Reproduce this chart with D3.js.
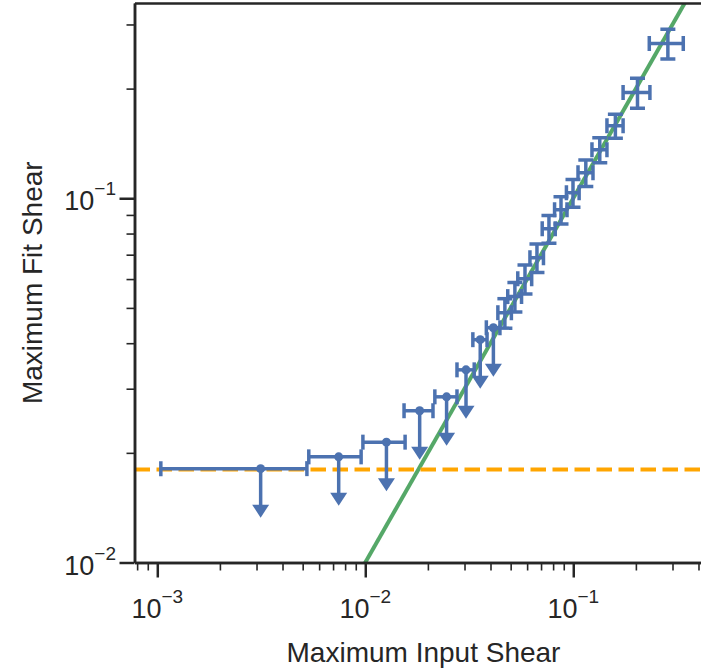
<!DOCTYPE html>
<html>
<head>
<meta charset="utf-8">
<script src="https://cdn.jsdelivr.net/npm/d3@7"></script>
<style>
  body { margin: 0; background: #fff; }
  text { font-family: "Liberation Sans", Arial, sans-serif; fill: #262626; }
</style>
</head>
<body>
<div id="chart"></div>
<script>
// upper limits (points with a down arrow)
const limitX = [0.00314, 0.00745, 0.01264, 0.01826, 0.0246, 0.0305, 0.0357, 0.0413];
const limitXErr = [0.0021, 0.0021, 0.0029, 0.0029, 0.0030, 0.0029, 0.0028, 0.0031];
const limitY = [0.0181, 0.0195, 0.0214, 0.0261, 0.0285, 0.0338, 0.0409, 0.0441];

// measured points with error bars in both directions
const fitX = [0.0469, 0.0524, 0.0586, 0.0669, 0.0764, 0.0873, 0.0997, 0.1149, 0.1341, 0.1594, 0.2036, 0.285];
const fitXErr = [0.0035, 0.004, 0.0045, 0.005, 0.0055, 0.006, 0.007, 0.0095, 0.0111, 0.0142, 0.030, 0.053];
const fitY = [0.0485, 0.0537, 0.0601, 0.0687, 0.0825, 0.093, 0.1035, 0.1175, 0.1358, 0.1581, 0.1951, 0.266];
const fitYErr = [0.0045, 0.005, 0.0055, 0.0062, 0.0072, 0.008, 0.009, 0.0098, 0.0107, 0.012, 0.0185, 0.025];

// horizontal noise level and the one-to-one line
const noiseLevel = 0.018;
const identityLine = [0.001, 1];

// axis limits and ticks
const xLimits = [0.000777, 0.409];
const yLimits = [0.01, 0.3436];
const xMajor = [1e-3, 1e-2, 1e-1];
const yMajor = [1e-2, 1e-1];
const xMinor = [8e-4, 9e-4, 2e-3, 3e-3, 4e-3, 5e-3, 6e-3, 7e-3, 8e-3, 9e-3,
  2e-2, 3e-2, 4e-2, 5e-2, 6e-2, 7e-2, 8e-2, 9e-2, 2e-1, 3e-1, 4e-1];
const yMinor = [2e-2, 3e-2, 4e-2, 5e-2, 6e-2, 7e-2, 8e-2, 9e-2, 2e-1, 3e-1];
const xTickExp = ["\u22123", "\u22122", "\u22121"];
const yTickExp = ["\u22122", "\u22121"];

const svgWidth = 701;
const svgHeight = 670;
const plot = { left: 134.5, right: 700.5, top: 3, bottom: 562.5 };

const blue = "#4c72b0";
const green = "#55a868";
const orange = "#ffa500";
const ink = "#262626";

const svg = d3.select("#chart")
  .append("svg")
  .attr("width", svgWidth)
  .attr("height", svgHeight);

const x = d3.scaleLog().domain(xLimits).range([plot.left, plot.right]);
const y = d3.scaleLog().domain(yLimits).range([plot.bottom, plot.top]);

svg.append("clipPath")
  .attr("id", "plotClip")
  .append("rect")
  .attr("x", plot.left)
  .attr("y", plot.top)
  .attr("width", plot.right - plot.left)
  .attr("height", plot.bottom - plot.top);

const plotArea = svg.append("g").attr("clip-path", "url(#plotClip)");

// one-to-one line
plotArea.append("line")
  .attr("x1", x(identityLine[0]))
  .attr("y1", y(identityLine[0]))
  .attr("x2", x(identityLine[1]))
  .attr("y2", y(identityLine[1]))
  .attr("stroke", green)
  .attr("stroke-width", 4);

// noise level
plotArea.append("line")
  .attr("x1", plot.left)
  .attr("x2", plot.right)
  .attr("y1", y(noiseLevel))
  .attr("y2", y(noiseLevel))
  .attr("stroke", orange)
  .attr("stroke-width", 4.2)
  .attr("stroke-dasharray", "15.5,6.5");

const capHalf = 7.5;
const barWidth = 3.5;

// upper limits
const limits = d3.range(limitX.length).map(i => ({ x: limitX[i], xe: limitXErr[i], y: limitY[i] }));
const limitGroup = plotArea.selectAll("g.limit")
  .data(limits)
  .enter()
  .append("g")
  .attr("class", "limit")
  .attr("stroke", blue)
  .attr("fill", blue)
  .attr("stroke-width", barWidth);

limitGroup.append("line")
  .attr("x1", d => x(d.x - d.xe))
  .attr("x2", d => x(d.x + d.xe))
  .attr("y1", d => y(d.y))
  .attr("y2", d => y(d.y));

limitGroup.append("line")
  .attr("x1", d => x(d.x - d.xe))
  .attr("x2", d => x(d.x - d.xe))
  .attr("y1", d => y(d.y) - capHalf)
  .attr("y2", d => y(d.y) + capHalf);

limitGroup.append("line")
  .attr("x1", d => x(d.x + d.xe))
  .attr("x2", d => x(d.x + d.xe))
  .attr("y1", d => y(d.y) - capHalf)
  .attr("y2", d => y(d.y) + capHalf);

limitGroup.append("line")
  .attr("x1", d => x(d.x))
  .attr("x2", d => x(d.x))
  .attr("y1", d => y(d.y))
  .attr("y2", d => y(d.y) + 40);

limitGroup.append("path")
  .attr("stroke", "none")
  .attr("d", d => {
    const cx = x(d.x), top = y(d.y) + 36, tip = y(d.y) + 49;
    return `M${cx - 8.5},${top}L${cx + 8.5},${top}L${cx},${tip}Z`;
  });

limitGroup.append("circle")
  .attr("stroke", "none")
  .attr("cx", d => x(d.x))
  .attr("cy", d => y(d.y))
  .attr("r", 4.5);

// measured points
const fits = d3.range(fitX.length).map(i => ({ x: fitX[i], xe: fitXErr[i], y: fitY[i], ye: fitYErr[i] }));
const fitGroup = plotArea.selectAll("g.fit")
  .data(fits)
  .enter()
  .append("g")
  .attr("class", "fit")
  .attr("stroke", blue)
  .attr("stroke-width", barWidth);

fitGroup.append("line")
  .attr("x1", d => x(d.x - d.xe))
  .attr("x2", d => x(d.x + d.xe))
  .attr("y1", d => y(d.y))
  .attr("y2", d => y(d.y));

fitGroup.append("line")
  .attr("x1", d => x(d.x))
  .attr("x2", d => x(d.x))
  .attr("y1", d => y(d.y - d.ye))
  .attr("y2", d => y(d.y + d.ye));

[-1, 1].forEach(s => {
  fitGroup.append("line")
    .attr("x1", d => x(d.x + s * d.xe))
    .attr("x2", d => x(d.x + s * d.xe))
    .attr("y1", d => y(d.y) - capHalf)
    .attr("y2", d => y(d.y) + capHalf);
  fitGroup.append("line")
    .attr("x1", d => x(d.x) - capHalf)
    .attr("x2", d => x(d.x) + capHalf)
    .attr("y1", d => y(d.y + s * d.ye))
    .attr("y2", d => y(d.y + s * d.ye));
});

// axes
function styleAxis(g, width) {
  g.select(".domain").attr("stroke", ink).attr("stroke-width", 2.5);
  g.selectAll(".tick line").attr("stroke", ink).attr("stroke-width", width);
}

svg.append("g")
  .attr("transform", `translate(0, ${plot.bottom})`)
  .call(d3.axisBottom(x).tickValues(xMinor).tickSize(8).tickSizeOuter(0).tickFormat(""))
  .call(g => styleAxis(g, 1.6));

svg.append("g")
  .attr("transform", `translate(0, ${plot.bottom})`)
  .call(d3.axisBottom(x).tickValues(xMajor).tickSize(15).tickSizeOuter(0).tickFormat(""))
  .call(g => styleAxis(g, 2.5));

svg.append("g")
  .attr("transform", `translate(${plot.left}, 0)`)
  .call(d3.axisLeft(y).tickValues(yMinor).tickSize(8).tickSizeOuter(0).tickFormat(""))
  .call(g => styleAxis(g, 1.6));

svg.append("g")
  .attr("transform", `translate(${plot.left}, 0)`)
  .call(d3.axisLeft(y).tickValues(yMajor).tickSize(15).tickSizeOuter(0).tickFormat(""))
  .call(g => styleAxis(g, 2.5));

// top spine
svg.append("g")
  .attr("transform", `translate(0, ${plot.top})`)
  .call(d3.axisTop(x).tickValues([]).tickSizeOuter(0))
  .call(g => styleAxis(g, 2.5));

// tick labels as 10 with a superscript exponent
xMajor.forEach((v, i) => {
  const t = svg.append("text")
    .attr("x", x(v))
    .attr("y", 618)
    .attr("text-anchor", "middle")
    .attr("font-size", 27);
  t.append("tspan").text("10");
  t.append("tspan").attr("dy", -15).attr("font-size", 19).text(xTickExp[i]);
});

yMajor.forEach((v, i) => {
  const t = svg.append("text")
    .attr("x", 116)
    .attr("y", y(v) + 12)
    .attr("text-anchor", "end")
    .attr("font-size", 27);
  t.append("tspan").text("10");
  t.append("tspan").attr("dy", -15).attr("font-size", 19).text(yTickExp[i]);
});

// axis titles
svg.append("text")
  .attr("x", (plot.left + plot.right) / 2 + 6)
  .attr("y", 662)
  .attr("text-anchor", "middle")
  .attr("font-size", 28)
  .text("Maximum Input Shear");

svg.append("text")
  .attr("transform", `translate(42, ${(plot.top + plot.bottom) / 2}) rotate(-90)`)
  .attr("text-anchor", "middle")
  .attr("font-size", 28)
  .text("Maximum Fit Shear");
</script>
</body>
</html>
